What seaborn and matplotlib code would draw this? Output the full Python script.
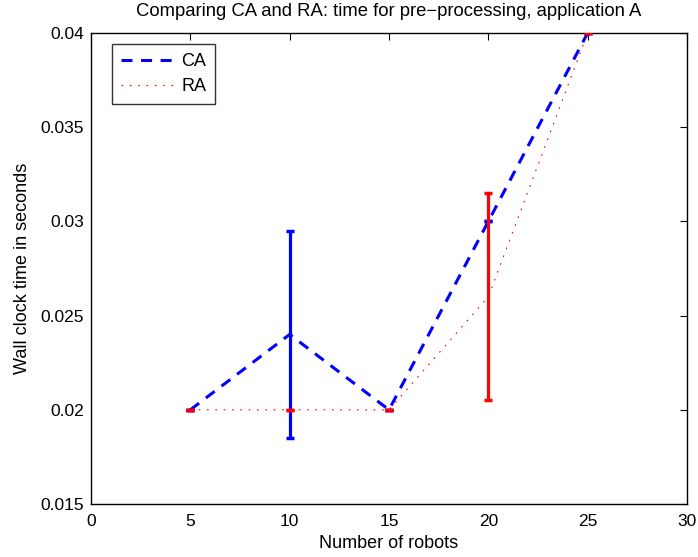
import matplotlib
matplotlib.use("Agg")
import matplotlib.pyplot as plt
import seaborn as sns
import pandas as pd
import numpy as np
from matplotlib.lines import Line2D

robots = [5, 10, 15, 20, 25]
ca_time = [0.020, 0.024, 0.020, 0.030, 0.040]
ca_err_low = [0.0, 0.0055, 0.0, 0.0, 0.0]
ca_err_high = [0.0, 0.0055, 0.0, 0.0, 0.0]
ra_time = [0.020, 0.020, 0.020, 0.026, 0.040]
ra_err_low = [0.0, 0.0, 0.0, 0.0055, 0.0]
ra_err_high = [0.0, 0.0, 0.0, 0.0055, 0.0]
x_ticks = [0, 5, 10, 15, 20, 25, 30]
y_ticks = [0.015, 0.02, 0.025, 0.03, 0.035, 0.04]
y_tick_labels = ["0.015", "0.02", "0.025", "0.03", "0.035", "0.04"]

sns.set_style("white")
plt.rcParams['font.family'] = ['Liberation Sans', 'DejaVu Sans']
plt.rcParams['text.color'] = 'black'
plt.rcParams['axes.labelcolor'] = 'black'
plt.rcParams['xtick.color'] = 'black'
plt.rcParams['ytick.color'] = 'black'

BLUE = "#0000ff"
RED = "#ff0000"
CA_DASH = (3.6, 2.8)
RA_DASH = (1.5, 6.0)
FS = 12.5

df = pd.DataFrame({
    "robots": robots * 2,
    "time": ca_time + ra_time,
    "method": ["CA"] * len(robots) + ["RA"] * len(robots),
})

fig = plt.figure(figsize=(6.98, 5.57), dpi=100)
ax = fig.add_axes([91/698, 1 - 504/557, (687-91)/698, (504-33)/557])

sns.lineplot(data=df, x="robots", y="time", hue="method", style="method",
             palette={"CA": BLUE, "RA": RED},
             dashes={"CA": CA_DASH, "RA": RA_DASH},
             ax=ax, legend=False)
ax.lines[0].set_linewidth(2.2)
ax.lines[1].set_linewidth(0.8)

ax.errorbar(robots, ca_time, yerr=[ca_err_low, ca_err_high], fmt="none",
            ecolor=BLUE, elinewidth=2.3, capsize=2.9, capthick=2.5, zorder=3)
ax.errorbar(robots, ra_time, yerr=[ra_err_low, ra_err_high], fmt="none",
            ecolor=RED, elinewidth=2.3, capsize=2.9, capthick=2.5, zorder=4)

handles = [Line2D([], [], color=BLUE, lw=2.2, dashes=CA_DASH),
           Line2D([], [], color=RED, lw=0.8, dashes=RA_DASH)]
leg = ax.legend(handles, ["CA", "RA"], loc="upper left", fontsize=13,
                frameon=True, fancybox=False, edgecolor="black",
                bbox_to_anchor=((112-91)/596, (504-44)/471), borderaxespad=0,
                handlelength=3.0, handletextpad=0.33, borderpad=0.5,
                labelspacing=0.45)
leg.get_frame().set_linewidth(1.0)

ax.set_xlim(0, 30)
ax.set_ylim(0.015, 0.04)
ax.set_xticks(x_ticks)
ax.set_yticks(y_ticks)
ax.set_yticklabels(y_tick_labels)
ax.tick_params(direction="in", top=True, right=True, length=5, width=0.8,
               labelsize=FS)
ax.tick_params(axis="x", pad=7)
ax.tick_params(axis="y", pad=5)
for s in ax.spines.values():
    s.set_visible(True)
    s.set_color("black")
    s.set_linewidth(1.0)

ax.set_xlabel("Number of robots", fontsize=13, labelpad=4.5)
ax.set_ylabel("Wall clock time in seconds", fontsize=13, labelpad=7)
ax.set_title("Comparing CA and RA: time for pre\u2212processing, application A",
             fontsize=13.3, pad=12.5)

fig.savefig("out.png", dpi=100)
